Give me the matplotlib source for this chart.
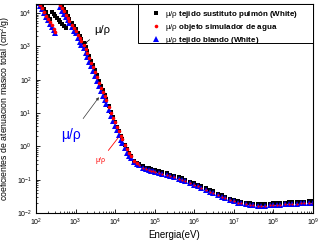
import matplotlib
matplotlib.use("Agg")
import matplotlib.pyplot as plt
import matplotlib.transforms as mtransforms
from matplotlib.lines import Line2D
from matplotlib.patches import Rectangle

plt.rcParams['font.family'] = ['Liberation Sans', 'DejaVu Sans']
plt.rcParams['mathtext.fontset'] = 'custom'
plt.rcParams['mathtext.rm'] = 'Liberation Sans'
plt.rcParams['mathtext.it'] = 'Liberation Sans:italic'
plt.rcParams['mathtext.bf'] = 'Liberation Sans:bold'

# ---------------- data (energy in eV, mass attenuation in cm^2/g) ----------------
# low-energy segment below the first edge
E_seg1 = [100, 112, 125, 140, 160, 180, 200, 225, 250, 280, 310]
mu_seg1_water = [28500, 22600, 17900, 14200, 10800, 8460, 6790, 5330, 4280, 3390, 2750]
mu_seg1_soft = [26200, 20800, 16500, 13100, 9940, 7780, 6250, 4900, 3940, 3120, 2530]
E_seg1_lung = [100, 112, 125, 140, 160, 180, 200, 225]
mu_seg1_lung = [35600, 28200, 22400, 17800, 13500, 10600, 8490, 6660]

# lung-only intermediate segment
E_seg2_lung = [255, 280, 310, 340, 375, 415, 460, 510, 560]
mu_seg2_lung = [10700, 9420, 8200, 7230, 6310, 5500, 4760, 4130, 3640]

# main curve, low-energy part (series differ slightly)
E_main = [400, 450, 500, 560, 630, 700, 800, 900, 1000, 1130, 1260, 1400, 1600, 1800,
          2000, 2250, 2500, 2800, 3150, 3550, 4000, 4500, 5000, 5500, 6000, 7000, 8000,
          9000, 10000, 11200, 12500, 14000, 15000, 17500, 20000, 22500, 25000, 30000, 35000]
mu_main_lung = [20500, 16200, 13200, 10500, 8280, 6790, 5180, 4080, 3340, 2590, 2070, 1680,
                1290, 940, 710, 510, 377, 274, 192, 136, 95, 67, 48.5, 35.8, 27.3, 16.9,
                11.1, 7.6, 5.45, 3.9, 2.84, 2.05, 1.68, 1.14, 0.815, 0.65, 0.532, 0.377, 0.314]
mu_main_water = [17800, 14100, 11500, 9100, 7200, 5900, 4500, 3550, 2900, 2250, 1800, 1460,
                 1120, 830, 617, 443, 328, 238, 167, 118, 82.8, 58.3, 42.6, 32.0, 24.6, 15.5,
                 10.4, 7.3, 5.33, 3.86, 2.82, 2.04, 1.67, 1.135, 0.81, 0.648, 0.530, 0.376, 0.314]
mu_main_soft = [15100, 12000, 9780, 7740, 6120, 5020, 3830, 3020, 2470, 1760, 1400, 1140,
                874, 637, 481, 346, 256, 186, 130, 92, 64.6, 45.5, 33.2, 25.0, 19.2, 12.1,
                8.1, 5.7, 4.16, 3.01, 2.20, 1.59, 1.30, 0.885, 0.632, 0.531, 0.456, 0.346, 0.301]

# main curve, high-energy part (series coincide)
E_high = [40000, 50000, 60000, 70000, 80000, 90000, 1e5, 1.25e5, 1.5e5, 2e5, 2.5e5, 3e5,
          4e5, 5e5, 6e5, 8e5, 1e6, 1.25e6, 1.5e6, 2e6, 2.5e6, 3e6, 4e6, 5e6, 6e6, 8e6,
          1e7, 1.25e7, 1.5e7, 2e7, 2.5e7, 3e7, 4e7, 5e7, 6e7, 8e7, 1e8, 1.25e8, 1.5e8,
          2e8, 2.5e8, 3e8, 4e8, 5e8, 6e8, 8e8, 1e9]
mu_high = [0.268, 0.227, 0.206, 0.194, 0.184, 0.177, 0.171, 0.160, 0.1505, 0.137, 0.127,
           0.1186, 0.1061, 0.0969, 0.0896, 0.0787, 0.0707, 0.0632, 0.0575, 0.0494, 0.0440,
           0.0397, 0.0340, 0.0303, 0.0277, 0.0243, 0.0222, 0.0206, 0.0194, 0.0181, 0.0175,
           0.0171, 0.0168, 0.0167, 0.0168, 0.0170, 0.0173, 0.0175, 0.0178, 0.0182, 0.0185,
           0.0188, 0.0191, 0.0194, 0.0196, 0.0199, 0.0201]

labels = ["tejido sustituto pulmón (White)", "objeto simulador de agua", "tejido blando (White)"]

# ---------------- figure ----------------
fig = plt.figure(figsize=(3.24, 2.44), dpi=100)
ax = fig.add_axes([0.111, 0.127, 0.855, 0.857])

kb = dict(ls='none', marker='s', ms=3.0, color='black', mec='black', mew=0)
kr = dict(ls='none', marker='o', ms=2.6, color='red', mec='red', mew=0)
kbl = dict(ls='none', marker='^', ms=4.6, color='blue', mec='blue', mew=0)

# lung (black)
ax.plot(E_seg1_lung, mu_seg1_lung, **kb)
ax.plot(E_seg2_lung, mu_seg2_lung, **kb)
ax.plot(E_main, mu_main_lung, **kb)
ax.plot(E_high, mu_high, ls='none', marker='s', ms=3.0, color='black', mew=0,
        transform=ax.transData + mtransforms.ScaledTranslation(0, 1.2 / 72, fig.dpi_scale_trans))
# soft tissue (blue)
ax.plot(E_seg1, mu_seg1_soft, **kbl)
ax.plot(E_main, mu_main_soft, **kbl)
ax.plot(E_high, mu_high, **kbl)
# water phantom (red)
ax.plot(E_seg1, mu_seg1_water, **kr)
ax.plot(E_main, mu_main_water, **kr)
ax.plot(E_high, mu_high, ls='none', marker='o', ms=1.6, color='red', mew=0)

ax.set_xscale('log')
ax.set_yscale('log')
ax.set_xlim(1e2, 1e9)
ax.set_ylim(1e-2, 1.9e4)

ax.tick_params(which='both', direction='in', top=False, right=False, labelsize=5, pad=3)
ax.tick_params(which='major', length=3, width=0.6)
ax.tick_params(which='minor', length=1.6, width=0.5)
for s in ax.spines.values():
    s.set_linewidth(0.8)

ax.set_xlabel("Energia(eV)", fontsize=7, labelpad=1)
ax.set_ylabel("coeficientes de atenuacion masico total (cm$^2$/g)", fontsize=6.3)
ax.yaxis.set_label_coords(-0.085, 0.5)

# annotations
ax.annotate("μ/ρ", xy=(1630, 1175), xytext=(4640, 3090), fontsize=8, color='black',
            ha='center', va='center',
            arrowprops=dict(arrowstyle='-|>', lw=0.5, color='black', mutation_scale=4,
                            shrinkA=2, shrinkB=0))
ax.annotate("μ/ρ", xy=(3900, 30), xytext=(766, 2.19), fontsize=10, color='blue',
            ha='center', va='center',
            arrowprops=dict(arrowstyle='-|>', lw=0.5, color='#333333', mutation_scale=4,
                            shrinkA=6, shrinkB=0))
ax.annotate("μ/ρ", xy=(11780, 1.78), xytext=(4380, 0.39), fontsize=5, color='red',
            ha='center', va='center',
            arrowprops=dict(arrowstyle='-', lw=0.6, color='red', shrinkA=3, shrinkB=0))

def lab(t):
    return "μ/ρ " + r"$\mathbf{" + t.replace(" ", r"\ ") + "}$"

# legend box
ax.add_patch(Rectangle((0.368, 0.813), 0.632, 0.187, transform=ax.transAxes,
                       facecolor='white', edgecolor='black', lw=0.7, zorder=4))
handles = [Line2D([], [], **kb), Line2D([], [], **kr), Line2D([], [], **kbl)]
leg = ax.legend(handles, [lab(t) for t in labels], loc='upper left',
                bbox_to_anchor=(0.415, 0.978), fontsize=5.8, frameon=False,
                borderaxespad=0, borderpad=0, handlelength=1.2,
                handletextpad=0.5, labelspacing=0.28)
leg.set_zorder(5)

fig.savefig("out.png", dpi=100)
